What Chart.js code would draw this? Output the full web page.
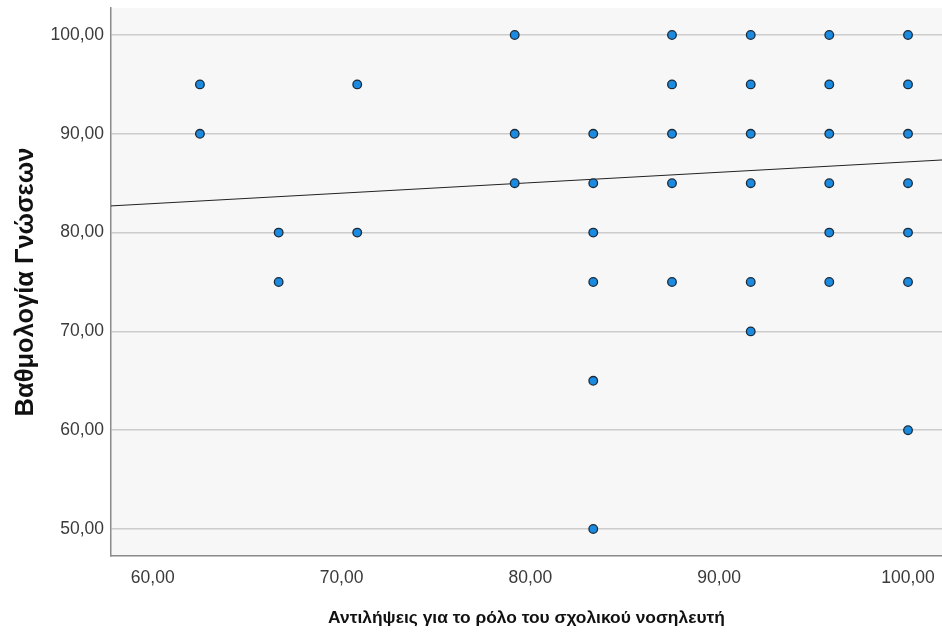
<!DOCTYPE html>
<html>
<head>
<meta charset="utf-8">
<script src="https://cdn.jsdelivr.net/npm/chart.js@4.4.1/dist/chart.umd.min.js"></script>
<style>
  html, body { margin: 0; padding: 0; background: #fff; }
  #wrap { width: 942px; height: 635px; }
</style>
</head>
<body>
<div id="wrap"><canvas id="grafico" width="942" height="635"></canvas></div>
<script>
// Τιμές x (αντιλήψεις) και y (βαθμολογία) ανά σημείο
const xValues = [
  62.5, 62.5,
  66.67, 66.67,
  70.83, 70.83,
  79.17, 79.17, 79.17,
  83.33, 83.33, 83.33, 83.33, 83.33, 83.33,
  87.5, 87.5, 87.5, 87.5, 87.5,
  91.67, 91.67, 91.67, 91.67, 91.67, 91.67,
  95.83, 95.83, 95.83, 95.83, 95.83, 95.83,
  100, 100, 100, 100, 100, 100, 100
];
const yValues = [
  95, 90,
  80, 75,
  95, 80,
  100, 90, 85,
  90, 85, 80, 75, 65, 50,
  100, 95, 90, 85, 75,
  100, 95, 90, 85, 75, 70,
  100, 95, 90, 85, 80, 75,
  100, 95, 90, 85, 80, 75, 60
];

// Γραμμή προσαρμογής (άκρα)
const fitX = [57.79, 101.8];
const fitY = [82.7, 87.35];

const xTicks = [60, 70, 80, 90, 100];
const yTicks = [50, 60, 70, 80, 90, 100];

const fmt = v => v.toFixed(2).replace('.', ',');
const fonte = '"Liberation Sans", Arial, sans-serif';

// Φόντο περιοχής γραφήματος
const fundoPlot = {
  id: 'fundoPlot',
  beforeDraw(chart) {
    const { ctx, chartArea: a } = chart;
    ctx.save();
    ctx.fillStyle = '#f7f7f7';
    ctx.fillRect(a.left, a.top, a.right - a.left, a.bottom - a.top);
    ctx.restore();
  }
};

const ctx = document.getElementById('grafico').getContext('2d');
new Chart(ctx, {
  type: 'scatter',
  data: {
    datasets: [
      {
        type: 'line',
        data: fitX.map((x, i) => ({ x: x, y: fitY[i] })),
        borderColor: '#222',
        borderWidth: 1,
        pointRadius: 0,
        fill: false,
        order: 2
      },
      {
        data: xValues.map((x, i) => ({ x: x, y: yValues[i] })),
        backgroundColor: '#1a8be0',
        borderColor: '#1c2b3a',
        borderWidth: 1.3,
        pointRadius: 4.3,
        order: 1
      }
    ]
  },
  options: {
    responsive: false,
    animation: false,
    layout: { autoPadding: false, padding: { top: 8, right: 0, left: 0, bottom: 0 } },
    plugins: {
      legend: { display: false },
      tooltip: { enabled: false }
    },
    scales: {
      x: {
        type: 'linear',
        min: 57.79,
        max: 101.8,
        afterFit(s) { s.height = 79; s.paddingLeft = 0; s.paddingRight = 0; },
        afterBuildTicks(s) { s.ticks = xTicks.map(v => ({ value: v })); },
        ticks: {
          callback: fmt,
          color: '#3a3a3a',
          font: { family: fonte, size: 17.5 },
          padding: 4,
          maxRotation: 0
        },
        grid: { display: false },
        border: { color: '#8a8a8a', width: 1.5 },
        title: {
          display: true,
          text: 'Αντιλήψεις για το ρόλο του σχολικού νοσηλευτή',
          color: '#111',
          font: { family: fonte, size: 17.4, weight: 'bold' },
          padding: { top: 3, bottom: 6 }
        }
      },
      y: {
        type: 'linear',
        min: 47.27,
        max: 102.73,
        afterFit(s) { s.width = 111; s.paddingTop = 0; s.paddingBottom = 0; },
        afterBuildTicks(s) { s.ticks = yTicks.map(v => ({ value: v })); },
        ticks: {
          callback: fmt,
          color: '#3a3a3a',
          font: { family: fonte, size: 17.5 },
          padding: 7
        },
        grid: { color: '#cccccc', lineWidth: 1.5, drawTicks: false },
        border: { color: '#8a8a8a', width: 1.5 },
        title: {
          display: true,
          text: 'Βαθμολογία Γνώσεων',
          color: '#111',
          font: { family: fonte, size: 25.5, weight: 'bold' },
          padding: { top: 11, bottom: 4 }
        }
      }
    }
  },
  plugins: [fundoPlot]
});
</script>
</body>
</html>
